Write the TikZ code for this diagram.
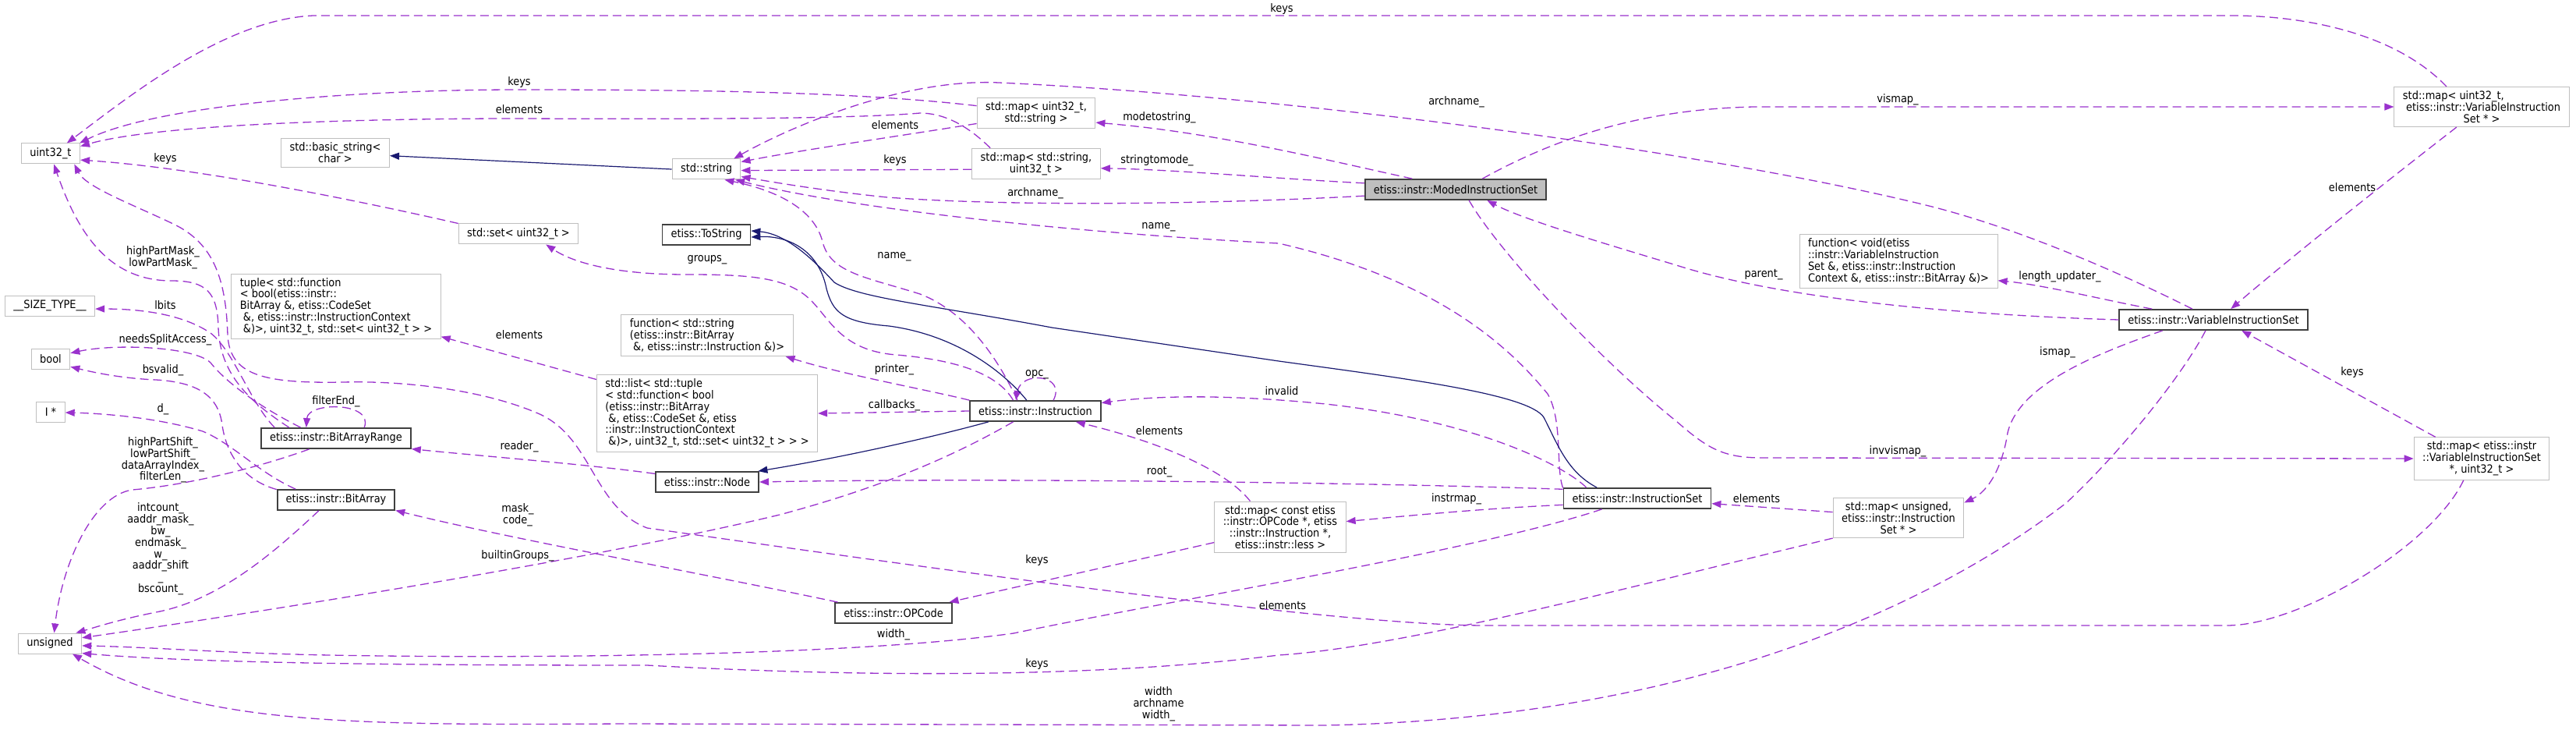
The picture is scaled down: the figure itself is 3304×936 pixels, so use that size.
\documentclass[tikz,border=0pt]{standalone}
\usepackage{fontspec}
\IfFontExistsTF{DejaVu Sans Condensed}
  {\newfontfamily\dgfamily{DejaVu Sans Condensed}}
  {\newfontfamily\dgfamily{DejaVu Sans}[FakeStretch=0.88]}
\newcommand\dgfont{\dgfamily\fontsize{7.2}{7.4}\selectfont}
\definecolor{dgpurple}{RGB}{154,50,205}
\definecolor{dgnavy}{RGB}{25,25,112}
\definecolor{dglight}{RGB}{191,191,191}
\definecolor{dgdark}{RGB}{64,64,64}
\usetikzlibrary{arrows.meta}
\tikzset{
  extbox/.style={draw=dglight, line width=0.5pt, fill=white, font=\dgfont,
    inner xsep=5.5pt, inner ysep=2.6pt, minimum height=13pt, align=center},
  clsbox/.style={extbox, draw=dgdark, line width=0.9pt},
  curbox/.style={clsbox, fill=dglight},
  uses/.style={draw=dgpurple, line width=0.65pt, dash pattern=on 5.5pt off 3pt,
    -{Triangle[length=6pt,width=4.5pt]}},
  inherits/.style={draw=dgnavy, line width=0.6pt, -{Triangle[length=6pt,width=4.5pt]}},
  elabel/.style={font=\dgfont, inner sep=0pt, align=center}
}

\begin{document}
\begin{tikzpicture}[x=0.5pt, y=-0.5pt]
\useasboundingbox (0,0) rectangle (3304,936);

% classes and types
\node[extbox] (uint) at (65,197) {uint32\_t};
\node[extbox] (bstr) at (430,196) {std::basic\_string<\\char >};
\node[extbox] (setu) at (665,300) {std::set< uint32\_t >};
\node[extbox] (str) at (906,217) {std::string};
\node[extbox] (mapus) at (1329,145) {std::map< uint32\_t,\\std::string >};
\node[extbox] (mapsu) at (1329,210) {std::map< std::string,\\uint32\_t >};
\node[clsbox] (tostr) at (906,301) {etiss::ToString};
\node[curbox] (moded) at (1867,243) {etiss::instr::ModedInstructionSet};
\node[extbox] (mapuv) at (3183,137) {\rlap{std::map< uint32\_t,}\phantom{\ etiss::instr::VariableInstruction}\\\ etiss::instr::VariableInstruction\\Set * >};
\node[extbox, align=left] (fnvis) at (2435,335) {function< void(etiss\\::instr::VariableInstruction\\Set \&, etiss::instr::Instruction\\Context \&, etiss::instr::BitArray \&)>};
\node[clsbox] (vis) at (2839,410) {etiss::instr::VariableInstructionSet};
\node[extbox] (mapvu) at (3183,588) {std::map< etiss::instr\\::VariableInstructionSet\\ *, uint32\_t >};
\node[extbox, align=left] (tuple) at (431,393) {tuple< std::function\\< bool(etiss::instr::\\BitArray \&, etiss::CodeSet\\\ \&, etiss::instr::InstructionContext\\\ \&)>, uint32\_t, std::set< uint32\_t > >};
\node[extbox, align=left] (fnstr) at (907,430) {function< std::string\\(etiss::instr::BitArray\\\ \&, etiss::instr::Instruction \&)>};
\node[extbox, align=left] (list) at (907,530) {std::list< std::tuple\\< std::function< bool\\(etiss::instr::BitArray\\\ \&, etiss::CodeSet \&, etiss\\::instr::InstructionContext\\\ \&)>, uint32\_t, std::set< uint32\_t > > >};
\node[extbox] (sizet) at (64,392) {\_\_SIZE\_TYPE\_\_};
\node[extbox] (bool) at (65,460) {bool};
\node[extbox] (iptr) at (65,528) {I *};
\node[clsbox] (bar) at (431,562) {etiss::instr::BitArrayRange};
\node[clsbox] (barr) at (431,641) {etiss::instr::BitArray};
\node[clsbox] (inode) at (907,618) {etiss::instr::Node};
\node[clsbox] (instr) at (1328,527) {etiss::instr::Instruction};
\node[clsbox] (opc) at (1146,786) {etiss::instr::OPCode};
\node[extbox] (unsg) at (64,825) {unsigned};
\node[extbox] (mapop) at (1642,676) {std::map< const etiss\\::instr::OPCode *, etiss\\::instr::Instruction *,\\etiss::instr::less >};
\node[clsbox] (iset) at (2100,639) {etiss::instr::InstructionSet};
\node[extbox] (mapui) at (2435,664) {std::map< unsigned,\\etiss::instr::Instruction\\Set * >};

% usage relations
\draw[uses] (mapuv.150) .. controls (3070,40) and (2950,20) .. (2862,20) -- (402,20) .. controls (290,25) and (170,120) .. (uint.33);
\draw[uses] (mapus.173) .. controls (1100,118) and (900,115) .. (666,115) .. controls (450,115) and (200,135) .. (uint.20);
\draw[uses] (mapsu.161) .. controls (1240,160) and (1210,145) .. (1180,145) .. controls (1100,152) and (900,153) .. (666,152) .. controls (450,152) and (200,160) .. (uint.14);
\draw[uses] (mapus.190) .. controls (1150,175) and (1030,192) .. (str.12);
\draw[uses] (mapsu.185) -- (str.358);
\draw[uses] (moded.166) .. controls (1700,205) and (1560,170) .. (mapus.351);
\draw[uses] (moded.176) .. controls (1650,230) and (1500,217) .. (mapsu.356);
\draw[uses] (moded.184) .. controls (1550,262) and (1300,265) .. (1138,253) .. controls (1060,245) and (1000,235) .. (str.348);
\draw[uses] (vis.153) .. controls (2740,360) and (2600,295) .. (2470,263) .. controls (2150,185) and (1600,120) .. (1281,106) .. controls (1150,100) and (1000,170) .. (str.21);
\draw[uses] (iset.172) .. controls (1995,600) and (2005,540) .. (1985,505) .. controls (1940,450) and (1850,360) .. (1640,312) .. controls (1400,300) and (1100,270) .. (str.340);
\draw[uses] (instr.149) .. controls (1280,460) and (1240,400) .. (1180,377) .. controls (1110,355) and (1065,350) .. (1055,310) .. controls (1045,270) and (1000,245) .. (str.330);
\draw[uses] (setu.north west) .. controls (450,255) and (250,215) .. (uint.348);
\draw[uses] (bar.167) .. controls (320,515) and (282,480) .. (280,420) .. controls (279,375) and (265,360) .. (220,360) .. controls (140,360) and (100,300) .. (uint.287);
\draw[uses] (mapvu.230) .. controls (3120,700) and (2950,802) .. (2856,802) -- (1905,802) .. controls (1700,802) and (1100,715) .. (830,677) .. controls (760,650) and (760,560) .. (690,530) .. controls (620,500) and (520,488) .. (440,490) .. controls (335,492) and (295,480) .. (292,430) .. controls (290,360) and (275,312) .. (222,287) .. controls (170,262) and (110,240) .. (uint.336);
\draw[uses] (opc.169) .. controls (900,735) and (650,690) .. (barr.350);
\draw[uses] (mapop.193) -- (opc.11);
\draw[uses] (instr.206) .. controls (1240,575) and (1150,620) .. (1000,660) .. controls (750,720) and (300,790) .. (unsg.10);
\draw[uses] (iset.197) .. controls (1900,705) and (1500,770) .. (1300,812) .. controls (1100,840) and (700,845) .. (423,840) .. controls (300,838) and (200,830) .. (unsg.356);
\draw[uses] (mapui.south west) .. controls (2100,750) and (1800,830) .. (1640,840) .. controls (1400,870) and (1100,868) .. (830,853) .. controls (500,853) and (250,850) .. (unsg.343);
\draw[uses] (vis.234) .. controls (2800,480) and (2720,580) .. (2650,645) .. controls (2500,760) and (2200,920) .. (1700,930) -- (800,928) .. controls (450,930) and (250,930) .. (unsg.335);
\draw[uses] (bar.202) .. controls (330,600) and (240,622) .. (170,628) .. controls (120,635) and (80,720) .. (unsg.68);
\draw[uses] (barr.212) .. controls (350,710) and (280,770) .. (200,785) .. controls (150,795) and (120,805) .. (unsg.22);
\draw[uses] (barr.170) .. controls (310,615) and (290,580) .. (285,545) .. controls (280,505) and (250,490) .. (200,487) .. controls (150,485) and (110,475) .. (bool.338);
\draw[uses] (barr.165) .. controls (330,605) and (300,570) .. (260,553) .. controls (200,535) and (130,530) .. (iptr.357);
\draw[uses] (bar.163) .. controls (330,520) and (290,490) .. (270,465) .. controls (250,445) and (150,440) .. (bool.16);
\draw[uses] (bar.170) .. controls (320,515) and (300,450) .. (270,427) .. controls (230,400) and (170,396) .. (sizet.356);
\draw[uses] (bar.21) .. controls (480,515) and (395,515) .. (bar.160);
\draw[uses] (inode.171) .. controls (750,595) and (620,585) .. (bar.352);
\draw[uses] (list.163) -- (tuple.344);
\draw[uses] (instr.154) .. controls (1280,480) and (1230,462) .. (1150,455) .. controls (1080,450) and (1065,410) .. (1040,385) .. controls (1010,355) and (960,352) .. (880,352) .. controls (800,352) and (740,340) .. (setu.339);
\draw[uses] (instr.north west) .. controls (1190,500) and (1080,480) .. (fnstr.345);
\draw[uses] (instr.west) -- (list.east);
\draw[uses] (instr.31) .. controls (1368,480) and (1310,475) .. (instr.151);
\draw[uses] (iset.168) .. controls (2010,600) and (1900,540) .. (1700,518) .. controls (1600,508) and (1500,505) .. (instr.7);
\draw[uses] (mapop.139) .. controls (1570,600) and (1480,565) .. (instr.345);
\draw[uses] (iset.173) .. controls (1800,620) and (1300,612) .. (inode.east);
\draw[uses] (iset.185) .. controls (1900,652) and (1800,662) .. (mapop.5);
\draw[uses] (mapui.175) -- (iset.356);
\draw[uses] (vis.192) .. controls (2700,450) and (2590,490) .. (2575,555) .. controls (2568,600) and (2550,630) .. (mapui.13);
\draw[uses] (vis.170) .. controls (2700,385) and (2620,365) .. (fnvis.349);
\draw[uses] (vis.west) .. controls (2550,405) and (2300,388) .. (2150,340) .. controls (2050,310) and (1950,280) .. (moded.341);
\draw[uses] (moded.22) .. controls (1990,180) and (2100,140) .. (2250,137) -- (mapuv.west);
\draw[uses] (moded.321) .. controls (1920,320) and (2050,460) .. (2150,540) .. controls (2190,575) and (2210,587) .. (2260,587) -- (mapvu.west);
\draw[uses] (mapuv.219) .. controls (3090,210) and (2950,320) .. (vis.32);
\draw[uses] (mapvu.155) -- (vis.339);

% inheritance
\draw[inherits] (str.west) -- (bstr.357);
\draw[inherits] (instr.193) .. controls (1180,565) and (1060,590) .. (inode.12);
\draw[inherits] (instr.129) .. controls (1290,480) and (1230,430) .. (1140,418) .. controls (1080,413) and (1068,400) .. (1060,370) .. controls (1050,320) and (1010,302) .. (tostr.357);
\draw[inherits] (iset.165) .. controls (2010,605) and (1998,570) .. (1980,535) .. controls (1960,505) and (1800,485) .. (1640,463) -- (1349,420) .. controls (1200,392) and (1100,382) .. (1070,362) .. controls (1045,335) and (1010,300) .. (tostr.5);

% member labels
\node[elabel] (lkeysa) at (1644,12) {keys};
\node[elabel] (lkeysb) at (666,106) {keys};
\node[elabel] (lelema) at (666,140) {elements};
\node[elabel] (lelemb) at (1148,160) {elements};
\node[elabel] (lkeysc) at (1148,206) {keys};
\node[elabel] (lmode) at (1487,151) {modetostring\_};
\node[elabel] (lstrm) at (1484,206) {stringtomode\_};
\node[elabel] (larcha) at (1328,248) {archname\_};
\node[elabel] (larchb) at (1868,131) {archname\_};
\node[elabel] (lnamea) at (1486,291) {name\_};
\node[elabel] (lnameb) at (1147,329) {name\_};
\node[elabel] (lkeysd) at (212,204) {keys};
\node[elabel] (lmask) at (209,330) {highPartMask\_\\lowPartMask\_};
\node[elabel] (llbits) at (212,391) {lbits};
\node[elabel] (lsplit) at (212,436) {needsSplitAccess\_};
\node[elabel] (lbsval) at (209,475) {bsvalid\_};
\node[elabel] (ld) at (209,525) {d\_};
\node[elabel] (lfend) at (431,515) {filterEnd\_};
\node[elabel] (lshift) at (209,590) {highPartShift\_\\lowPartShift\_\\dataArrayIndex\_\\filterLen\_};
\node[elabel] (lcount) at (206,704) {intcount\_\\aaddr\_mask\_\\bw\_\\endmask\_\\w\_\\aaddr\_shift\\\_\\bscount\_};
\node[elabel] (lelemc) at (666,429) {elements};
\node[elabel] (lreader) at (666,573) {reader\_};
\node[elabel] (lgroups) at (907,333) {groups\_};
\node[elabel] (lprint) at (1147,474) {printer\_};
\node[elabel] (lcallb) at (1147,520) {callbacks\_};
\node[elabel] (lopc) at (1330,480) {opc\_};
\node[elabel] (linval) at (1644,501) {invalid};
\node[elabel] (lelemd) at (1487,552) {elements};
\node[elabel] (lroot) at (1487,605) {root\_};
\node[elabel] (lcode) at (664,660) {mask\_\\code\_};
\node[elabel] (lbuilt) at (664,713) {builtinGroups\_};
\node[elabel] (lkeyse) at (1330,719) {keys};
\node[elabel] (lwidth) at (1146,814) {width\_};
\node[elabel] (lkeysf) at (1330,852) {keys};
\node[elabel] (lwarch) at (1486,903) {width\\archname\\width\_};
\node[elabel] (limap) at (1868,640) {instrmap\_};
\node[elabel] (leleme) at (2253,639) {elements};
\node[elabel] (lelemf) at (1645,776) {elements};
\node[elabel] (lvis) at (2434,128) {vismap\_};
\node[elabel] (lparent) at (2262,352) {parent\_};
\node[elabel] (llen) at (2642,355) {length\_updater\_};
\node[elabel] (lismap) at (2639,452) {ismap\_};
\node[elabel] (lkeysg) at (3017,478) {keys};
\node[elabel] (lelemg) at (3017,240) {elements};
\node[elabel] (linvis) at (2434,579) {invvismap\_};
\end{tikzpicture}
\end{document}
